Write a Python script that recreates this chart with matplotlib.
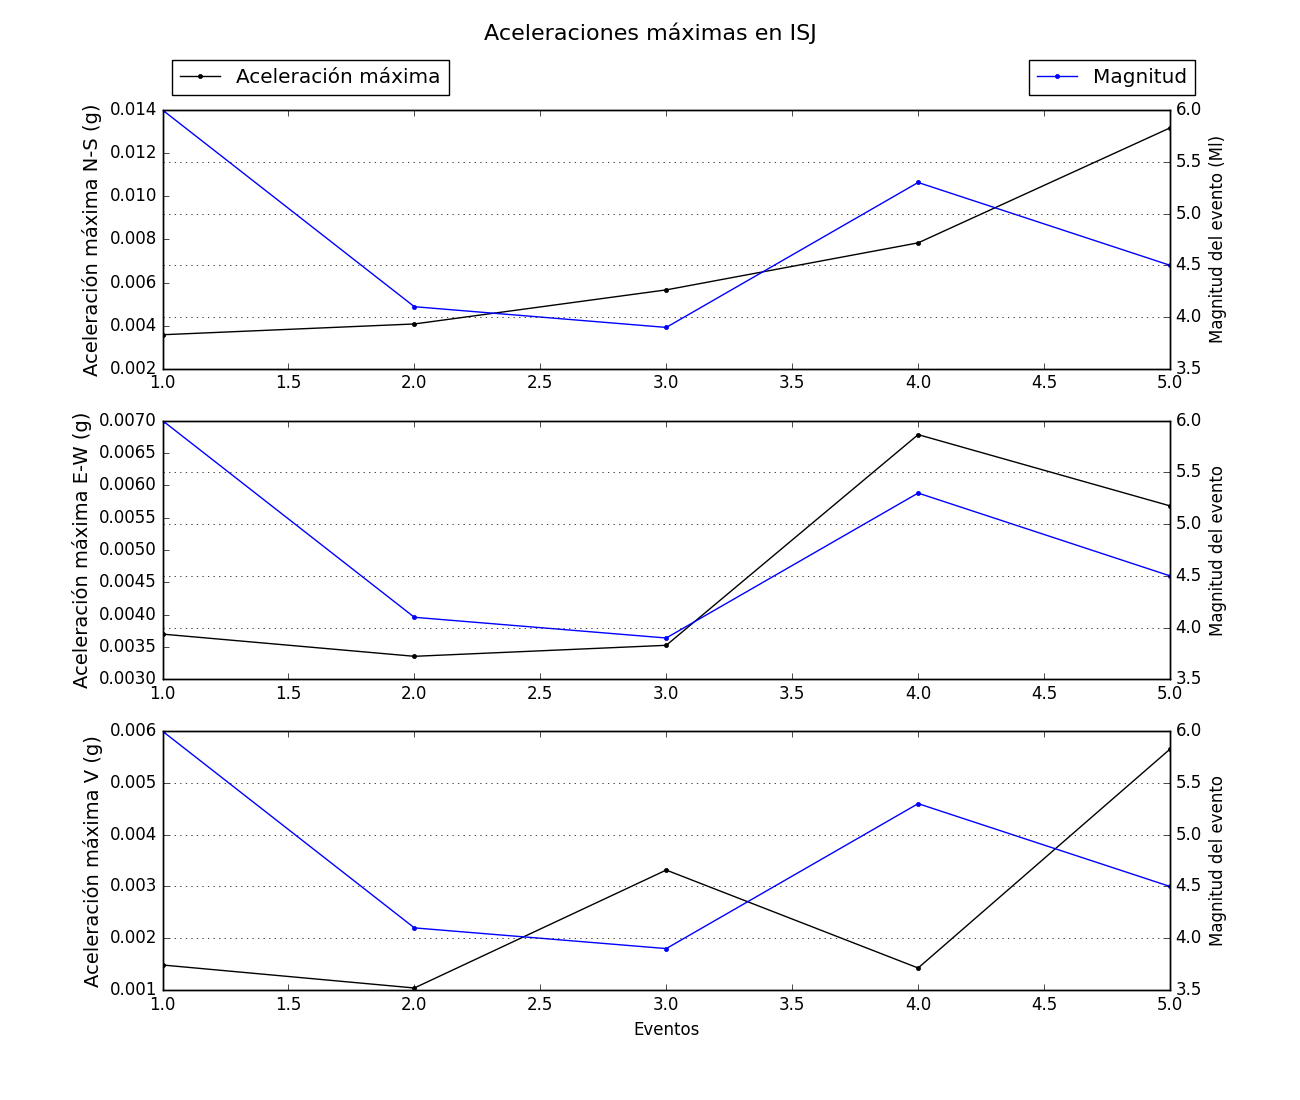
import matplotlib
matplotlib.use('Agg')
import matplotlib.pyplot as plt

plt.style.use('classic')

# Eventos y magnitudes (Ml)
eventos = [1, 2, 3, 4, 5]
magnitud = [6.0, 4.1, 3.9, 5.3, 4.5]

# Aceleraciones máximas por componente (g)
acc_ns = [0.00358, 0.00408, 0.00566, 0.00784, 0.01317]
acc_ew = [0.00370, 0.003357, 0.003527, 0.006783, 0.005682]
acc_v = [0.001483, 0.001039, 0.003317, 0.001425, 0.005653]

componentes = [
    (acc_ns, 'Aceleración máxima N-S (g)', 'Magnitud del evento (Ml)', (0.002, 0.014)),
    (acc_ew, 'Aceleración máxima E-W (g)', 'Magnitud del evento', (0.003, 0.007)),
    (acc_v, 'Aceleración máxima V (g)', 'Magnitud del evento', (0.001, 0.006)),
]

fig, axes = plt.subplots(3, 1, figsize=(13, 11))
fig.patch.set_facecolor('white')
fig.suptitle('Aceleraciones máximas en ISJ', fontsize=16)

for i, (acc, lab_izq, lab_der, lims) in enumerate(componentes):
    ax1 = axes[i]
    ax1.plot(eventos, acc, 'k.-', label='Aceleración máxima')
    ax1.set_ylim(*lims)
    ax1.set_xlim(1, 5)
    ax1.set_ylabel(lab_izq, fontsize=14)

    ax2 = ax1.twinx()
    ax2.plot(eventos, magnitud, 'b.-', label='Magnitud')
    ax2.set_ylim(3.5, 6.0)
    ax2.set_xlim(1, 5)
    ax2.set_ylabel(lab_der, fontsize=12)
    ax2.yaxis.grid(True)

    if i == 0:
        ax1.legend(loc='upper left', bbox_to_anchor=(0.0099, 1.193), borderaxespad=0,
                   numpoints=1, fontsize='large')
        ax2.legend(loc='upper right', bbox_to_anchor=(1.0248, 1.193), borderaxespad=0,
                   numpoints=1, fontsize='large')

axes[-1].set_xlabel('Eventos', fontsize=12)

plt.savefig('out.png', dpi=100, facecolor='white')
